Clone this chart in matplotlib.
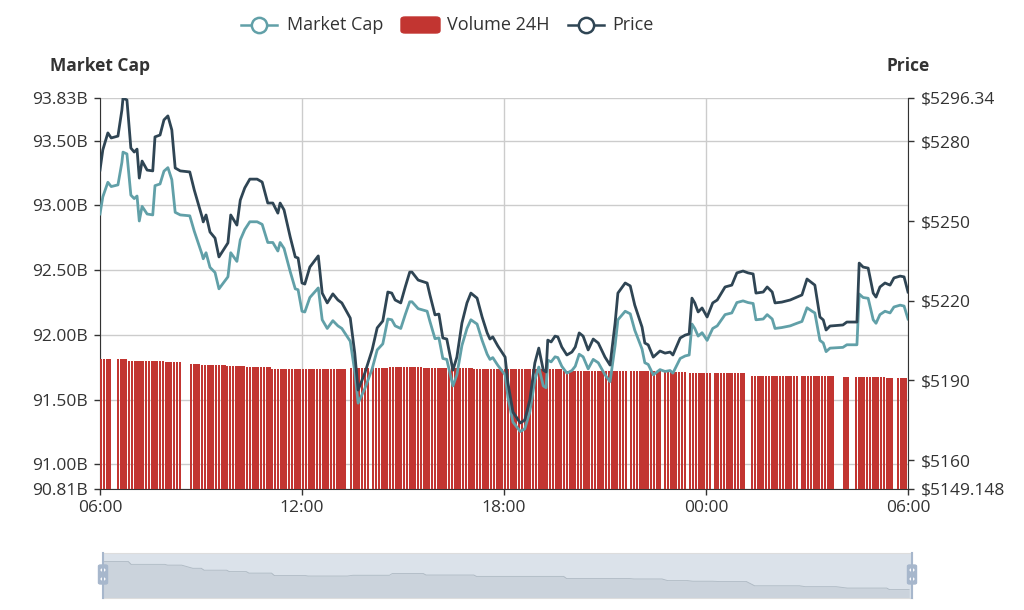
import numpy as np
import pandas as pd
import matplotlib
matplotlib.use('Agg')
import matplotlib.pyplot as plt
from matplotlib.lines import Line2D
from matplotlib.patches import FancyBboxPatch, Circle

plt.rcParams['font.family'] = ['Open Sans', 'DejaVu Sans']

# sample times for the two lines (06:00 -> 06:00 next day)
times = [
    '06:00', '06:05', '06:14', '06:20', '06:32', '06:39', '06:41', '06:48', '06:55', '07:01',
    '07:06', '07:10', '07:15', '07:24', '07:34', '07:38', '07:47', '07:54', '08:01', '08:08',
    '08:14', '08:23', '08:40', '08:48', '09:02', '09:04', '09:09', '09:16', '09:25', '09:32',
    '09:48', '09:53', '10:04', '10:10', '10:18', '10:27', '10:40', '10:49', '10:59', '11:08',
    '11:17', '11:21', '11:28', '11:39', '11:48', '11:53', '12:00', '12:05', '12:14', '12:29',
    '12:36', '12:45', '12:55', '13:04', '13:11', '13:26', '13:34', '13:40', '13:52', '14:05',
    '14:14', '14:24', '14:33', '14:40', '14:46', '14:56', '15:04', '15:12', '15:16', '15:27',
    '15:43', '15:48', '15:57', '16:04', '16:11', '16:18', '16:29', '16:36', '16:45', '16:54',
    '17:01', '17:12', '17:21', '17:30', '17:35', '17:40', '17:49', '18:02', '18:07', '18:16',
    '18:29', '18:37', '18:46', '18:55', '19:02', '19:10', '19:15', '19:18', '19:24', '19:31',
    '19:36', '19:43', '19:52', '20:01', '20:07', '20:14', '20:21', '20:30', '20:39', '20:48',
    '21:00', '21:09', '21:18', '21:23', '21:36', '21:45', '21:53', '22:06', '22:11', '22:17',
    '22:26', '22:38', '22:47', '22:56', '23:01', '23:14', '23:23', '23:30', '23:35', '23:40',
    '23:46', '23:53', '00:02', '00:12', '00:20', '00:34', '00:46', '00:55', '01:06', '01:15',
    '01:24', '01:29', '01:42', '01:49', '01:58', '02:03', '02:15', '02:30', '02:42', '02:51',
    '03:00', '03:09', '03:14', '03:23', '03:29', '03:34', '03:41', '04:04', '04:11', '04:29',
    '04:33', '04:40', '04:49', '04:58', '05:03', '05:10', '05:19', '05:28', '05:35', '05:46',
    '05:53', '06:00',
]

price = [
    5269.2, 5276.8, 5283.2, 5281.3, 5282.0, 5291.8, 5296.3, 5295.6, 5277.5, 5276.0, 5277.1, 5266.2,
    5272.6, 5269.2, 5268.9, 5281.7, 5282.4, 5288.1, 5289.6, 5284.3, 5270.0, 5268.9, 5268.5, 5261.7,
    5251.5, 5249.7, 5252.3, 5245.9, 5243.6, 5236.5, 5241.8, 5252.3, 5248.5, 5257.9, 5262.5, 5265.8,
    5265.8, 5264.7, 5256.8, 5256.8, 5253.0, 5256.8, 5254.2, 5244.0, 5236.5, 5236.1, 5226.7, 5226.3,
    5232.7, 5236.9, 5222.9, 5219.2, 5222.6, 5220.3, 5219.2, 5213.5, 5200.3, 5186.4, 5192.8, 5201.5,
    5209.8, 5212.4, 5223.3, 5222.9, 5220.3, 5219.2, 5225.2, 5230.8, 5230.8, 5227.8, 5226.7, 5222.2,
    5214.7, 5215.0, 5206.0, 5205.6, 5193.9, 5198.8, 5211.6, 5219.2, 5222.9, 5221.0, 5213.9, 5207.9,
    5205.6, 5206.4, 5203.0, 5198.8, 5189.1, 5178.1, 5174.0, 5175.1, 5182.7, 5196.6, 5202.2, 5193.9,
    5193.2, 5205.2, 5204.5, 5206.7, 5206.4, 5202.6, 5199.6, 5200.7, 5202.6, 5207.9, 5206.7, 5201.5,
    5205.6, 5204.1, 5198.8, 5195.8, 5211.6, 5222.9, 5226.7, 5225.6, 5218.4, 5210.1, 5204.1, 5203.4,
    5198.8, 5201.1, 5200.3, 5200.7, 5199.6, 5206.0, 5207.1, 5207.5, 5221.0, 5219.2, 5215.8, 5217.3,
    5213.9, 5219.2, 5220.3, 5225.2, 5225.9, 5230.5, 5231.2, 5230.5, 5230.1, 5222.9, 5223.3, 5225.2,
    5223.3, 5219.2, 5219.5, 5220.3, 5221.4, 5222.2, 5228.2, 5226.7, 5225.9, 5213.9, 5212.8, 5209.0,
    5210.5, 5210.9, 5212.0, 5212.0, 5234.2, 5232.7, 5232.3, 5222.9, 5221.4, 5225.2, 5226.7, 5225.9,
    5228.6, 5229.3, 5229.0, 5223.3,
]

# market cap in billions USD
mcap = [
    92.934, 93.066, 93.179, 93.146, 93.159, 93.332, 93.412, 93.398, 93.08, 93.053, 93.073, 92.88,
    92.993, 92.934, 92.927, 93.153, 93.166, 93.265, 93.292, 93.199, 92.947, 92.927, 92.92, 92.801,
    92.621, 92.588, 92.635, 92.522, 92.482, 92.356, 92.449, 92.635, 92.568, 92.734, 92.814, 92.874,
    92.874, 92.854, 92.714, 92.714, 92.648, 92.714, 92.668, 92.489, 92.356, 92.349, 92.183, 92.177,
    92.289, 92.363, 92.117, 92.05, 92.11, 92.07, 92.05, 91.951, 91.718, 91.473, 91.586, 91.738,
    91.884, 91.931, 92.123, 92.117, 92.07, 92.05, 92.157, 92.256, 92.256, 92.203, 92.183, 92.104,
    91.971, 91.977, 91.818, 91.811, 91.606, 91.692, 91.918, 92.05, 92.117, 92.084, 91.958, 91.851,
    91.811, 91.825, 91.765, 91.692, 91.519, 91.327, 91.254, 91.274, 91.406, 91.652, 91.752, 91.606,
    91.592, 91.805, 91.792, 91.831, 91.825, 91.758, 91.705, 91.725, 91.758, 91.851, 91.831, 91.738,
    91.811, 91.785, 91.692, 91.639, 91.918, 92.117, 92.183, 92.163, 92.037, 91.891, 91.785, 91.772,
    91.692, 91.732, 91.718, 91.725, 91.705, 91.818, 91.838, 91.845, 92.084, 92.05, 91.991, 92.017,
    91.958, 92.05, 92.07, 92.157, 92.17, 92.25, 92.263, 92.25, 92.243, 92.117, 92.123, 92.157,
    92.123, 92.05, 92.057, 92.07, 92.09, 92.104, 92.21, 92.183, 92.17, 91.958, 91.938, 91.871,
    91.898, 91.904, 91.924, 91.924, 92.316, 92.289, 92.283, 92.117, 92.09, 92.157, 92.183, 92.17,
    92.216, 92.23, 92.223, 92.123,
]

# 24h volume in billions USD, one value every 5 minutes (nan = no data)
N = np.nan
volume = [
    14.96, 14.96, 14.96, 14.96, N, N, 14.96, 14.96, 14.96, 14.96, 14.73, 14.73,
    14.73, 14.73, 14.73, 14.73, 14.73, 14.73, 14.73, 14.73, 14.73, 14.73, 14.73, 14.67,
    14.67, 14.67, 14.67, 14.67, 14.67, N, N, N, 14.42, 14.42, 14.42, 14.42,
    14.27, 14.27, 14.27, 14.27, 14.27, 14.27, 14.27, 14.27, 14.27, 14.16, 14.16, 14.16,
    14.16, 14.16, 14.16, 14.16, 14.04, 14.04, 14.04, 14.04, 14.04, 14.04, 14.04, 14.04,
    14.04, 13.85, 13.85, 13.85, 13.85, 13.85, 13.85, 13.85, 13.85, 13.85, 13.85, 13.85,
    13.85, 13.81, 13.81, 13.81, 13.81, 13.81, 13.81, 13.81, 13.81, 13.81, 13.81, 13.81,
    13.81, 13.81, 13.81, 13.81, N, 13.87, 13.87, 13.87, 13.87, 13.87, 13.87, 13.87,
    N, 13.87, 13.87, 13.87, 13.87, 13.87, 13.87, 14.01, 14.01, 14.01, 14.01, 14.01,
    14.01, 14.01, 14.01, 14.01, 14.01, 14.01, 14.01, 13.89, 13.89, 13.89, 13.89, 13.89,
    13.89, 13.89, 13.89, 13.89, 13.89, 13.89, 13.89, 13.89, 13.89, 13.89, 13.89, 13.89,
    13.89, 13.78, 13.78, 13.78, 13.78, 13.78, 13.78, 13.78, 13.78, 13.78, 13.78, 13.78,
    13.78, 13.78, 13.78, 13.78, 13.78, 13.78, 13.78, 13.78, 13.78, 13.78, 13.78, 13.78,
    13.78, 13.78, 13.78, 13.78, 13.78, 13.78, 13.78, 13.78, 13.78, 13.62, 13.62, 13.62,
    13.62, 13.62, 13.62, 13.62, 13.62, 13.62, 13.62, 13.62, 13.62, 13.62, 13.62, 13.62,
    13.62, 13.62, 13.62, 13.62, 13.62, 13.62, 13.62, 13.62, N, 13.58, 13.58, 13.58,
    13.58, 13.58, 13.58, 13.58, 13.58, 13.58, 13.58, 13.58, N, 13.45, 13.45, 13.45,
    13.45, 13.45, 13.45, 13.45, 13.45, N, 13.40, 13.40, 13.40, 13.40, 13.40, 13.40,
    13.40, 13.40, N, 13.38, 13.38, 13.38, 13.38, 13.38, 13.38, 13.38, 13.38, 13.38,
    13.38, 13.38, N, N, 13.04, 13.04, 13.04, 13.04, 13.04, 13.04, 13.04, 13.04,
    13.04, 13.04, 13.04, 13.04, 13.04, 13.04, 13.04, 13.04, 13.04, N, 12.97, 12.97,
    12.97, 12.97, 12.97, 12.97, 12.97, 12.97, 12.97, 12.97, 12.97, 12.97, N, N,
    N, 12.86, 12.86, N, N, 12.86, 12.86, 12.86, 12.86, 12.86, 12.86, 12.86,
    12.86, 12.86, 12.86, 12.86, 12.74, 12.74, 12.74, N, 12.74, 12.74, 12.74, 12.74,
]

mcap_ticks = [90.81, 91.00, 91.50, 92.00, 92.50, 93.00, 93.50, 93.83]
price_ticks = [5149.148, 5160, 5190, 5220, 5250, 5280, 5296.34]
price_labels = ['$5149.148', '$5160', '$5190', '$5220', '$5250', '$5280', '$5296.34']
x_labels = ['06:00', '12:00', '18:00', '00:00', '06:00']

C_MCAP = '#61a0a8'
C_VOL = '#c23531'
C_PRICE = '#2f4554'
TXT = '#333333'

t0 = pd.Timestamp('2019-04-10 06:00')


def to_stamps(labels):
    # HH:MM strings -> timestamps, rolling over midnight
    out, day, prev = [], 0, None
    for s in labels:
        h, m = map(int, s.split(':'))
        mins = h * 60 + m
        if prev is not None and mins < prev:
            day += 1
        prev = mins
        out.append(pd.Timestamp('2019-04-10') + pd.Timedelta(days=day, minutes=mins))
    return out


n = min(len(times), len(price), len(mcap))
line_t = to_stamps(times[:n])
price = price[:n]
mcap = mcap[:n]

vol = np.array(volume, dtype=float)
vol_t = [t0 + pd.Timedelta(minutes=5 * i) for i in range(len(vol))]
ok = ~np.isnan(vol)
vol_t_ok = [t for t, k in zip(vol_t, ok) if k]

W, H = 1024, 610
fig = plt.figure(figsize=(W / 100, H / 100), dpi=100)
rect = [100 / W, 121 / H, 808 / W, 391 / H]
axM = fig.add_axes(rect)
axV = fig.add_axes(rect, sharex=axM)
axP = fig.add_axes(rect, sharex=axM)
for a in (axV, axP):
    a.set_facecolor('none')

# volume bars on a hidden axis
axV.bar(vol_t_ok, vol[ok], width=4 / 1440, align='edge', color=C_VOL, linewidth=0)
axV.set_ylim(0, 45)
axV.axis('off')

# market cap axis (left) carries the grid
axM.set_ylim(mcap_ticks[0], mcap_ticks[-1])
axM.set_yticks(mcap_ticks)
axM.set_yticklabels(['%.2fB' % v for v in mcap_ticks])
axM.set_xlim(t0, t0 + pd.Timedelta(days=1))
axM.set_xticks([t0 + pd.Timedelta(hours=6 * k) for k in range(5)])
axM.set_xticklabels(x_labels)
axM.grid(True, color='#cccccc', linewidth=1)
axM.set_axisbelow(True)
for s in ('top', 'right'):
    axM.spines[s].set_visible(False)
for s in ('left', 'bottom'):
    axM.spines[s].set_color(TXT)
axM.tick_params(colors=TXT, labelcolor=TXT, labelsize=12.5, length=4, width=1)
axM.tick_params(axis='y', pad=5)
axM.tick_params(axis='x', pad=4)

# price axis (right)
axP.set_ylim(price_ticks[0], price_ticks[-1])
axP.set_yticks(price_ticks)
axP.set_yticklabels(price_labels)
axP.yaxis.tick_right()
axP.tick_params(axis='x', bottom=False, labelbottom=False)
axP.tick_params(axis='y', colors=TXT, labelcolor=TXT, labelsize=12.5, length=4, width=1, pad=5)
for s in ('top', 'left', 'bottom'):
    axP.spines[s].set_visible(False)
axP.spines['right'].set_color(TXT)

# lines above the bars: market cap uses the left scale, price the right one
axP.plot(line_t, mcap, color=C_MCAP, linewidth=2, transform=axM.transData, zorder=2,
         solid_joinstyle='round')
axP.plot(line_t, price, color=C_PRICE, linewidth=2, zorder=3, solid_joinstyle='round')
axP.set_xlim(t0, t0 + pd.Timedelta(days=1))

# axis names
fig.text(100 / W, 1 - 66 / H, 'Market Cap', ha='center', va='center', fontsize=12.5,
         fontweight='bold', color=TXT)
fig.text(908 / W, 1 - 66 / H, 'Price', ha='center', va='center', fontsize=12.5,
         fontweight='bold', color=TXT)

# legend
ly = 1 - 25 / H
for x0, x1, xc, col in ((241, 277, 259, C_MCAP), (568, 604, 586, C_PRICE)):
    fig.add_artist(Line2D([x0 / W, x1 / W], [ly, ly], color=col, linewidth=1.8,
                          transform=fig.transFigure))
    fig.add_artist(Line2D([xc / W], [ly], marker='o', markersize=11, markerfacecolor='white',
                          markeredgecolor=col, markeredgewidth=1.8, transform=fig.transFigure))
fig.add_artist(FancyBboxPatch((401 / W, 1 - 33 / H), 39 / W, 16 / H,
                              boxstyle='round,pad=0,rounding_size=0.004', color=C_VOL,
                              transform=fig.transFigure))
for xt, s in ((287, 'Market Cap'), (447, 'Volume 24H'), (612, 'Price')):
    fig.text(xt / W, ly, s, ha='left', va='center', fontsize=13, color=TXT)

# data zoom slider with the volume shadow
axS = fig.add_axes([103 / W, 12 / H, 809 / W, 45 / H])
axS.set_facecolor((167 / 255, 183 / 255, 204 / 255, 0.4))
span = np.nanmax(vol) - np.nanmin(vol)
axS.fill_between(vol_t_ok, vol[ok], 0, color=(47 / 255, 69 / 255, 84 / 255, 0.09), linewidth=0)
axS.plot(vol_t_ok, vol[ok], color=(47 / 255, 69 / 255, 84 / 255, 0.25), linewidth=0.6)
axS.set_ylim(np.nanmin(vol) - 0.3 * span, np.nanmax(vol) + 0.3 * span)
axS.set_xlim(t0, t0 + pd.Timedelta(days=1))
axS.set_xticks([])
axS.set_yticks([])
for s in axS.spines.values():
    s.set_color('#dddddd')
for hx in (103, 912):
    fig.add_artist(Line2D([hx / W, hx / W], [1 - 553 / H, 1 - 598 / H], color='#a7b7cc',
                          linewidth=1.5, transform=fig.transFigure))
    fig.add_artist(FancyBboxPatch(((hx - 4.5) / W, 1 - 584 / H), 9 / W, 19 / H,
                                  boxstyle='round,pad=0,rounding_size=0.002', color='#a7b7cc',
                                  transform=fig.transFigure))
    for dy in (570, 579):
        fig.add_artist(Circle((hx / W, 1 - dy / H), 1.8 / W, color='white',
                              transform=fig.transFigure))

fig.savefig('out.png', dpi=100)
